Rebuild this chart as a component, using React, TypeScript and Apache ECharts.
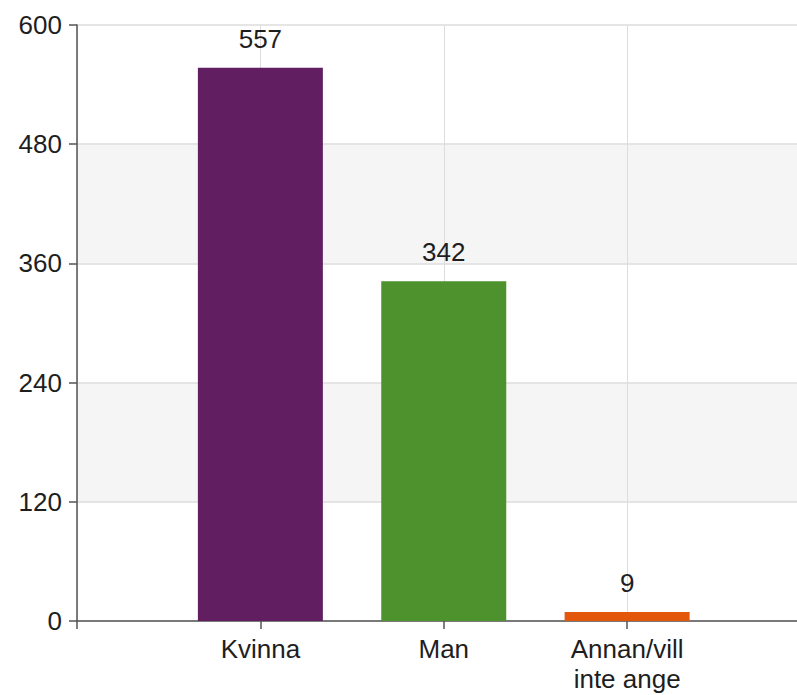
import React, { useEffect, useRef } from "react";
import * as echarts from "echarts";

const categories = ["Kvinna", "Man", "Annan/vill\ninte ange"];
const values = [557, 342, 9];
const barColors = ["#611f62", "#4e922e", "#e2570c"];
const yTicks = { min: 0, max: 600, interval: 120 };

export default function App() {
  const ref = useRef<HTMLDivElement>(null);
  useEffect(() => {
    if (!ref.current) return;
    const chart = echarts.init(ref.current, null, { renderer: "svg" });
    const axisData = ["", ...categories, ""];
    const seriesData: any[] = ["-", ...values.map((v, i) => ({ value: v, itemStyle: { color: barColors[i] } })), "-"];
    const font = "'Liberation Sans', Arial, sans-serif";
    chart.setOption({
      animation: false,
      backgroundColor: "#ffffff",
      grid: { left: 77, top: 25, right: -13.5, bottom: 74, containLabel: false, outerBoundsMode: "none" },
      xAxis: {
        type: "category",
        data: axisData,
        boundaryGap: false,
        axisLine: { show: true, lineStyle: { color: "#555555", width: 1.5 } },
        axisTick: { show: true, length: 8, alignWithLabel: true, lineStyle: { color: "#555555", width: 1.5 } },
        axisLabel: { color: "#1e1e1e", fontSize: 26, fontFamily: font, margin: 13, lineHeight: 30, interval: 0 },
        splitLine: { show: true, lineStyle: { color: "#dddddd", width: 1 } },
      },
      yAxis: {
        type: "value",
        min: yTicks.min,
        max: yTicks.max,
        interval: yTicks.interval,
        axisLine: { show: true, lineStyle: { color: "#555555", width: 1.5 } },
        axisTick: { show: true, length: 8, lineStyle: { color: "#555555", width: 1.5 } },
        axisLabel: { color: "#1e1e1e", fontSize: 26, fontFamily: font, margin: 15 },
        splitLine: { show: true, lineStyle: { color: "#dddddd", width: 1.5 } },
        splitArea: { show: true, areaStyle: { color: ["#ffffff", "#f5f5f5"] } },
      },
      series: [
        {
          type: "bar",
          data: seriesData,
          barWidth: 125,
          label: {
            show: true,
            position: "top",
            distance: 16,
            color: "#1e1e1e",
            fontSize: 26,
            fontFamily: font,
          },
        },
      ],
    });
    return () => chart.dispose();
  }, []);
  return (
    <div
      ref={ref}
      style={{ position: "fixed", left: 0, top: 0, width: 797, height: 695 }}
    />
  );
}
